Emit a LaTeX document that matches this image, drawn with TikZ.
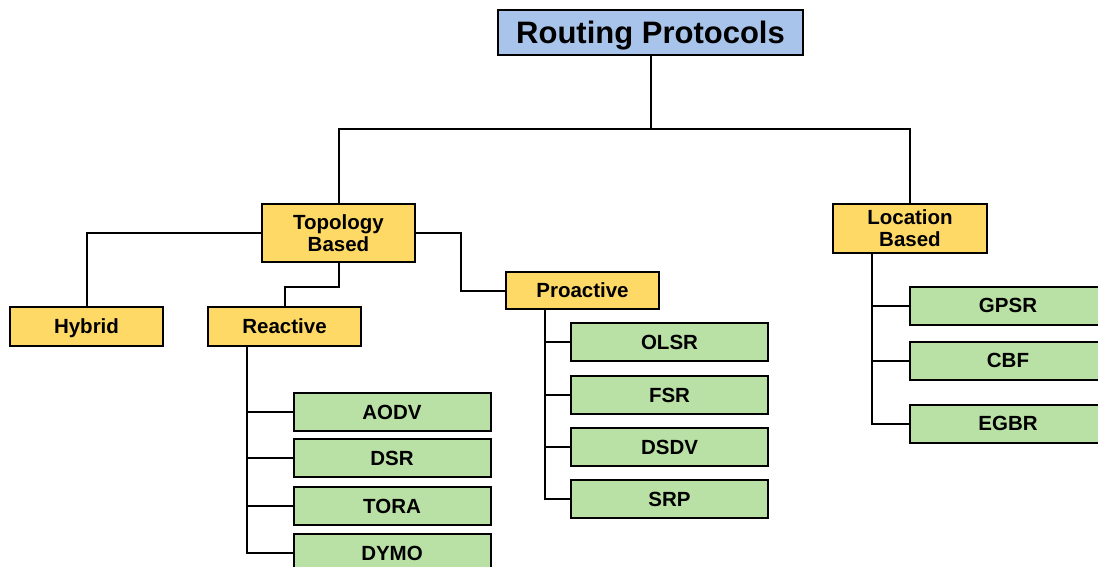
\documentclass[tikz,border=0pt]{standalone}
\usepackage{fontspec}
\setmainfont{Liberation Sans}
\definecolor{rootfill}{HTML}{A9C4EB}
\definecolor{catfill}{HTML}{FFD966}
\definecolor{leaffill}{HTML}{B9E0A5}
\begin{document}
\begin{tikzpicture}[x=1pt,y=-1pt,
  boxbase/.style={draw=black, line width=2pt, inner sep=0pt, align=center,
    font=\bfseries\fontsize{20.5}{22}\selectfont},
  oneline/.style={text height=14.7pt, text depth=0pt},
  rootbox/.style={boxbase, fill=rootfill, minimum width=305pt, minimum height=45pt,
    font=\bfseries\fontsize{31}{36}\selectfont, text height=22.2pt, text depth=0pt},
  catbox/.style={boxbase, fill=catfill, minimum width=153pt},
  leafbox/.style={boxbase, oneline, fill=leaffill, minimum width=197pt, minimum height=38pt},
  conn/.style={draw=black, line width=2pt}]
\clip (0,0) rectangle (1098,567);
% nodes
\node[rootbox] (root) at (650.5,32.5) {Routing Protocols};
\node[catbox, minimum height=58pt] (topo) at (338.5,233) {Topology\\Based};
\node[catbox, minimum height=49pt, minimum width=154pt] (loc) at (910,228.5) {Location\\Based};
\node[catbox, oneline, minimum height=39pt] (hybrid) at (86.5,326.5) {Hybrid};
\node[catbox, oneline, minimum height=39pt] (react) at (284.5,326.5) {Reactive};
\node[catbox, oneline, minimum height=37pt] (proact) at (582.5,290.5) {Proactive};
\node[leafbox] (aodv) at (392,412) {AODV};
\node[leafbox] (dsr) at (392,458) {DSR};
\node[leafbox] (tora) at (392,506) {TORA};
\node[leafbox] (dymo) at (392,553) {DYMO};
\node[leafbox] (olsr) at (669.5,342) {OLSR};
\node[leafbox] (fsr) at (669.5,395) {FSR};
\node[leafbox] (dsdv) at (669.5,447) {DSDV};
\node[leafbox] (srp) at (669.5,499) {SRP};
\node[leafbox] (gpsr) at (1008,305.5) {GPSR};
\node[leafbox] (cbf) at (1008,360.5) {CBF};
\node[leafbox] (egbr) at (1008,423.5) {EGBR};
% helper coordinates
\coordinate (rj) at (650.5,129);
\coordinate (tp) at (461,233);
\coordinate (rt) at (247,346);
\coordinate (pt) at (545,309);
\coordinate (lt) at (872,253);
% connectors
\draw[conn] (root.south) -- (rj);
\draw[conn] (topo.north) |- (rj) -| (loc.north);
\draw[conn] (topo.west) -| (hybrid.north);
\draw[conn] (topo.south) -- ++(0,24) -| (react.north);
\draw[conn] (topo.east) -- (tp) |- (proact.west);
\draw[conn] (rt) |- (dymo.west);
\draw[conn] (aodv.west) -- (aodv.west -| rt);
\draw[conn] (dsr.west) -- (dsr.west -| rt);
\draw[conn] (tora.west) -- (tora.west -| rt);
\draw[conn] (pt) |- (srp.west);
\draw[conn] (olsr.west) -- (olsr.west -| pt);
\draw[conn] (fsr.west) -- (fsr.west -| pt);
\draw[conn] (dsdv.west) -- (dsdv.west -| pt);
\draw[conn] (lt) |- (egbr.west);
\draw[conn] (gpsr.west) -- (gpsr.west -| lt);
\draw[conn] (cbf.west) -- (cbf.west -| lt);
\end{tikzpicture}
\end{document}
